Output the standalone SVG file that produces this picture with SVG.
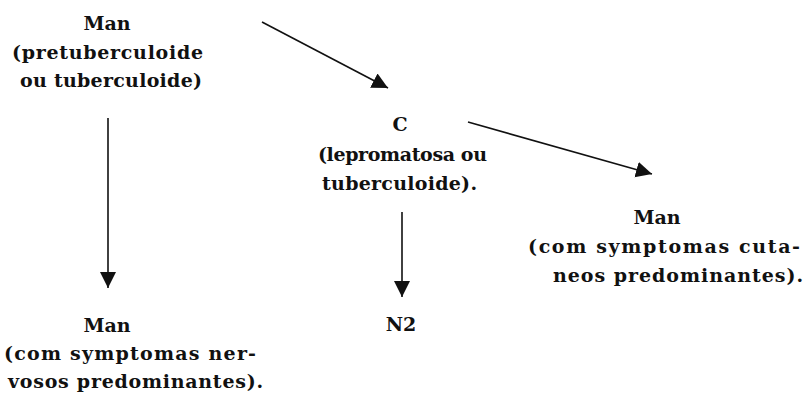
<svg xmlns="http://www.w3.org/2000/svg" width="809" height="394" viewBox="0 0 809 394">
<style>
text{font-family:"DejaVu Serif","Liberation Serif",serif;font-weight:bold;font-size:19px;fill:#111}
.c{text-anchor:middle}
.e{stroke:#111;stroke-width:1.6;fill:none}
</style>
<defs>
<marker id="ah" markerUnits="userSpaceOnUse" markerWidth="18" markerHeight="18" refX="16" refY="8" orient="auto">
<path d="M0,0 L16,8 L0,16 z" fill="#111"/>
</marker>
</defs>
<rect width="809" height="394" fill="#fff"/>
<g id="connectors">
<line class="e" x1="262" y1="22" x2="388" y2="88" marker-end="url(#ah)"/>
<line class="e" x1="108" y1="118" x2="108" y2="288" marker-end="url(#ah)"/>
<line class="e" x1="468" y1="122" x2="652" y2="174" marker-end="url(#ah)"/>
<line class="e" x1="402" y1="212" x2="402" y2="297" marker-end="url(#ah)"/>
</g>
<g id="node-man-top">
<text class="c" x="107" y="30">Man</text>
<text x="12" y="59" textLength="191" lengthAdjust="spacing">(pretuberculoide</text>
<text x="20" y="87" textLength="182" lengthAdjust="spacing">ou tuberculoide)</text>
</g>
<g id="node-c">
<text class="c" x="400" y="131">C</text>
<text x="318" y="161" textLength="169" lengthAdjust="spacing">(lepromatosa ou</text>
<text x="322" y="190" textLength="155" lengthAdjust="spacing">tuberculoide).</text>
</g>
<g id="node-man-right">
<text class="c" x="657" y="224">Man</text>
<text x="528" y="253" textLength="272" lengthAdjust="spacing">(com symptomas cuta-</text>
<text x="553" y="282" textLength="250" lengthAdjust="spacing">neos predominantes).</text>
</g>
<g id="node-n2">
<text class="c" x="401" y="331">N2</text>
</g>
<g id="node-man-bottom">
<text class="c" x="107" y="332">Man</text>
<text x="4" y="360" textLength="252" lengthAdjust="spacing">(com symptomas ner-</text>
<text x="8" y="388" textLength="255" lengthAdjust="spacing">vosos predominantes).</text>
</g>
</svg>
